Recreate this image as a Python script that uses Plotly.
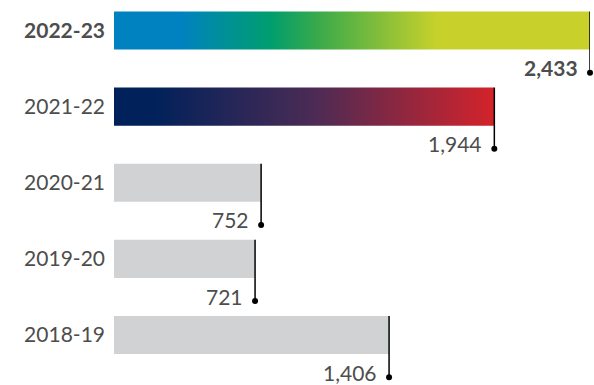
import plotly.graph_objects as go

categories = ["2022-23", "2021-22", "2020-21", "2019-20", "2018-19"]
values = [2433, 1944, 752, 721, 1406]
value_labels = ["2,433", "1,944", "752", "721", "1,406"]

grad_1 = [[0.0, "#0082c0"], [0.14, "#0082c0"], [0.33, "#009e6e"], [0.43, "#3aaa4a"],
          [0.68, "#c8d12b"], [1.0, "#c8d12b"]]
grad_2 = [[0.0, "#00215a"], [0.10, "#00215a"], [0.52, "#4a2b55"], [1.0, "#d4232a"]]
gray = "#d1d2d4"
text_color = "#4d4d4d"
font_family = "Lato, 'DejaVu Sans', sans-serif"

half = 0.25
dot_off = 0.555

fig = go.Figure()

gradients = {0: grad_1, 1: grad_2}
for i, (cat, v) in enumerate(zip(categories, values)):
    if i in gradients:
        fig.add_trace(go.Scatter(
            x=[0, v, v, 0, 0], y=[i - half, i - half, i + half, i + half, i - half],
            mode="lines", line=dict(width=0), fill="toself",
            fillgradient=dict(type="horizontal", colorscale=gradients[i]),
            hoverinfo="skip", showlegend=False))
    else:
        fig.add_trace(go.Bar(
            x=[v], y=[i], orientation="h", width=2 * half,
            marker=dict(color=gray, line=dict(width=0)), showlegend=False))

# leader lines and dots
for i, v in enumerate(values):
    fig.add_trace(go.Scatter(
        x=[v, v], y=[i - half, i + dot_off], mode="lines", cliponaxis=False,
        line=dict(color="#000000", width=1.5), hoverinfo="skip", showlegend=False))
    fig.add_trace(go.Scatter(
        x=[v], y=[i + dot_off], mode="markers", cliponaxis=False,
        marker=dict(color="#000000", size=6), hoverinfo="skip", showlegend=False))
    lab = value_labels[i]
    if i == 0:
        lab = "<b>" + lab + "</b>"
    fig.add_annotation(x=v, y=i + dot_off, text=lab, showarrow=False,
                       xanchor="right", yanchor="middle", xshift=-10, yshift=5,
                       font=dict(size=21, color=text_color, family=font_family))

ticktext = ["<b>" + categories[0] + "</b>"] + categories[1:]

fig.update_layout(
    width=594, height=385,
    margin=dict(l=114, r=4, t=0, b=0),
    plot_bgcolor="white", paper_bgcolor="white",
    barmode="overlay",
    xaxis=dict(range=[0, 2433], showgrid=False, zeroline=False, showticklabels=False,
               showline=False, fixedrange=True),
    yaxis=dict(range=[4.657, -0.4007], tickvals=list(range(len(categories))),
               ticktext=ticktext, showgrid=False, zeroline=False, showline=False,
               ticks="", ticklabelstandoff=8,
               tickfont=dict(size=21, color=text_color, family=font_family)),
)

fig.write_html("out.html")
